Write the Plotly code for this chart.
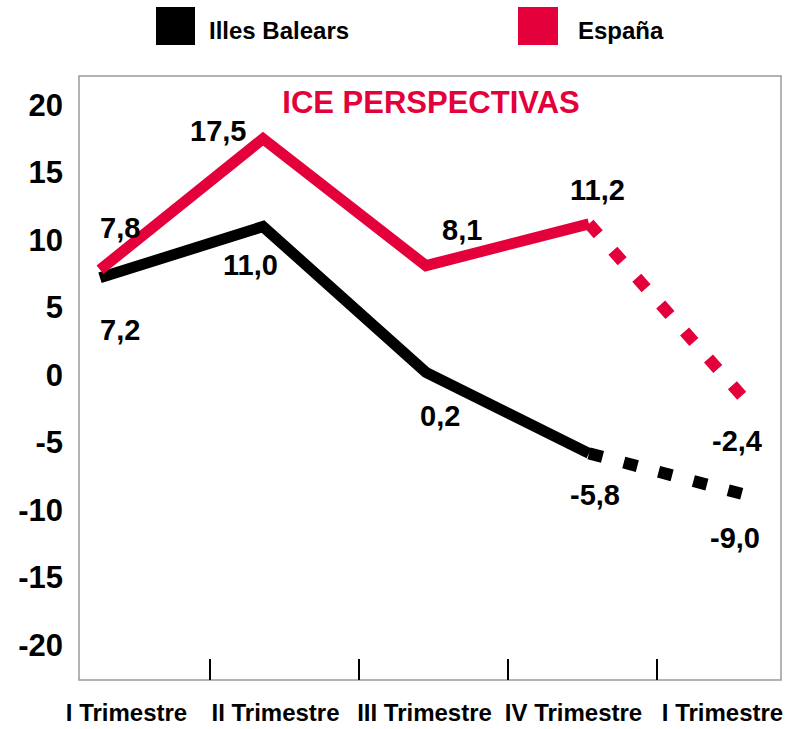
import plotly.graph_objects as go

# ---- data ----
quarters = ["I Trimestre", "II Trimestre", "III Trimestre", "IV Trimestre", "I Trimestre"]
balears = [7.2, 11.0, 0.2, -5.8, -9.0]
espana = [7.8, 17.5, 8.1, 11.2, -2.4]
y_ticks = [-20, -15, -10, -5, 0, 5, 10, 15, 20]
series_names = ["Illes Balears", "España"]
forecast_start = 3  # last solid point; dotted forecast after it

# ---- style ----
RED = "#e4003a"
BLACK = "#000000"
FRAME = "#9a9a9a"
FONT = "Liberation Sans"
W, H = 790, 729
L, R, T, B = 79, 9, 76, 49
PW, PH = W - L - R, H - T - B


def px_x(px):
    return (px - L) / PW


def px_y(py):
    return (H - B - py) / PH


def fmt(v):
    return f"{v:.1f}".replace(".", ",")


idx = list(range(len(quarters)))
fig = go.Figure()

# invisible trace so the category-label axis is rendered
fig.add_trace(go.Scatter(x=idx, y=[None] * len(idx), xaxis="x", yaxis="y",
                         mode="lines", showlegend=False, hoverinfo="skip"))


def add_series(vals, color):
    fig.add_trace(go.Scatter(
        x=idx[:forecast_start + 1], y=vals[:forecast_start + 1], mode="lines",
        line=dict(color=color, width=11), xaxis="x2", yaxis="y",
        showlegend=False, hoverinfo="skip"))
    fig.add_trace(go.Scatter(
        x=idx[forecast_start:], y=vals[forecast_start:], mode="lines",
        line=dict(color=color, width=12, dash="14px,22px"), xaxis="x2", yaxis="y",
        showlegend=False, hoverinfo="skip"))


add_series(balears, BLACK)
add_series(espana, RED)

esp_offsets = [(20, 42), (-45, 8), (36, 36), (9, 34), (-15, -34)]
bal_offsets = [(20, -52), (-12, -38), (14, -44), (6, -42), (-17, -41)]

annotations = []
for vals, offs in ((espana, esp_offsets), (balears, bal_offsets)):
    for i, v in enumerate(vals):
        annotations.append(dict(
            x=idx[i], y=v, xref="x2", yref="y", text=fmt(v), showarrow=False,
            xshift=offs[i][0], yshift=offs[i][1],
            font=dict(family=FONT, size=29, color=BLACK, weight="bold")))

# frame + legend squares
shapes = [
    dict(type="rect", xref="paper", yref="paper", x0=0, x1=1, y0=0, y1=1,
         line=dict(color=FRAME, width=1.5), layer="below"),
    dict(type="rect", xref="paper", yref="paper", x0=px_x(156), x1=px_x(195),
         y0=px_y(45), y1=px_y(7), fillcolor=BLACK, line=dict(width=0)),
    dict(type="rect", xref="paper", yref="paper", x0=px_x(518), x1=px_x(558),
         y0=px_y(45), y1=px_y(7), fillcolor=RED, line=dict(width=0)),
]
for name, xpx in zip(series_names, (207, 576)):
    annotations.append(dict(
        x=px_x(xpx), y=px_y(31), xref="paper", yref="paper", text=name,
        showarrow=False, xanchor="left", yanchor="middle",
        font=dict(family=FONT, size=24, color=BLACK, weight="bold")))

fig.update_layout(
    width=W, height=H,
    margin=dict(l=L, r=R, t=T, b=B, pad=0, autoexpand=False),
    paper_bgcolor="white", plot_bgcolor="white",
    showlegend=False,
    title=dict(text="ICE PERSPECTIVAS", x=px_x(431), xref="paper", xanchor="center",
               y=1 - 102 / H, yref="container", yanchor="middle",
               font=dict(family=FONT, size=31, color=RED, weight="bold")),
    xaxis=dict(
        range=[-0.3792, 4.3322], tickmode="array", tickvals=idx, ticktext=quarters,
        ticks="", showline=False, showgrid=False, zeroline=False, automargin=False,
        ticklabelshift=-9, ticklabelstandoff=16,
        tickfont=dict(family=FONT, size=24, color=BLACK, weight="bold"),
        minor=dict(tickmode="linear", tick0=0.5, dtick=1, ticks="inside",
                   ticklen=21, tickwidth=1.5, tickcolor=BLACK, showgrid=False),
        fixedrange=True),
    xaxis2=dict(range=[-0.1288, 4.178], overlaying="x", visible=False,
                showgrid=False, zeroline=False),
    yaxis=dict(
        range=[-22.59, 22.15], tickmode="array", tickvals=y_ticks,
        ticktext=[str(v) for v in y_ticks], ticks="", showline=False,
        showgrid=False, zeroline=False, ticklabelstandoff=15, automargin=False,
        tickfont=dict(family=FONT, size=31, color=BLACK, weight="bold")),
    annotations=annotations,
    shapes=shapes,
)

fig.write_html("out.html", config={"displayModeBar": False},
               post_script="document.body.style.margin='0';")
